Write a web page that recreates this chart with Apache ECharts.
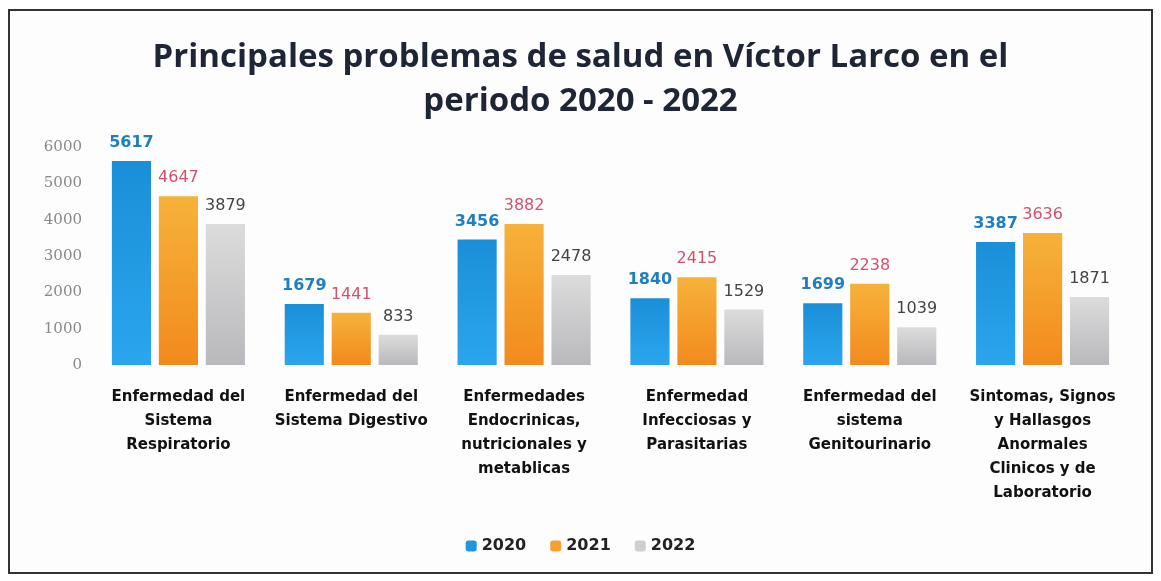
<!DOCTYPE html>
<html>
<head>
<meta charset="utf-8">
<script src="https://cdn.jsdelivr.net/npm/echarts@6/dist/echarts.min.js"></script>
<style>
  html, body { margin: 0; padding: 0; background: #fff; }
  #chart { position: absolute; left: 8px; top: 9px; width: 1145px; height: 565px; border: 2px solid #333; box-sizing: border-box; background: #fdfdfd; }
</style>
</head>
<body>
<div id="chart"></div>
<script>
const categories = [
  "Enfermedad del\nSistema\nRespiratorio",
  "Enfermedad del\nSistema Digestivo",
  "Enfermedades\nEndocrinicas,\nnutricionales y\nmetablicas",
  "Enfermedad\nInfecciosas y\nParasitarias",
  "Enfermedad del\nsistema\nGenitourinario",
  "Sintomas, Signos\ny Hallasgos\nAnormales\nClinicos y de\nLaboratorio"
];
const years = ["2020", "2021", "2022"];
const values2020 = [5617, 1679, 3456, 1840, 1699, 3387];
const values2021 = [4647, 1441, 3882, 2415, 2238, 3636];
const values2022 = [3879, 833, 2478, 1529, 1039, 1871];

const chart = echarts.init(document.getElementById("chart"));

function grad(top, bottom) {
  return new echarts.graphic.LinearGradient(0, 0, 0, 1, [
    { offset: 0, color: top },
    { offset: 1, color: bottom }
  ]);
}

const styles = [
  { color: grad("#1a8fd8", "#2aa6ee"), legend: "#2196e0", label: "#1f7fc0", weight: "bold" },
  { color: grad("#f6b23a", "#f28a1e"), legend: "#f5a030", label: "#d5506e", weight: "normal" },
  { color: grad("#dcdcdc", "#b9b9bd"), legend: "#cfcfcf", label: "#444", weight: "normal" }
];
const allValues = [values2020, values2021, values2022];

chart.setOption({
  animation: false,
  title: {
    text: "Principales problemas de salud en Víctor Larco en el\nperiodo 2020 - 2022",
    left: "center",
    top: 20,
    textStyle: {
      fontFamily: "Open Sans",
      fontSize: 33,
      fontWeight: "bold",
      color: "#1e2636",
      lineHeight: 44
    }
  },
  legend: {
    bottom: 13,
    left: "center",
    itemWidth: 11,
    itemHeight: 11,
    itemGap: 24,
    textStyle: { fontFamily: "DejaVu Sans", fontSize: 16, fontWeight: "bold", color: "#222" },
    data: years.map((y, i) => ({ name: y, itemStyle: { color: styles[i].legend } }))
  },
  grid: {
    left: 82,
    right: 22,
    top: 136,
    bottom: 207
  },
  xAxis: {
    type: "category",
    data: categories,
    axisLine: { show: false },
    axisTick: { show: false },
    axisLabel: {
      interval: 0,
      margin: 20,
      fontFamily: "DejaVu Sans",
      fontSize: 15,
      fontWeight: "bold",
      color: "#111",
      lineHeight: 24
    }
  },
  yAxis: {
    type: "value",
    min: 0,
    max: 6000,
    interval: 1000,
    splitLine: { show: false },
    axisLine: { show: false },
    axisTick: { show: false },
    axisLabel: {
      margin: 10,
      fontFamily: "DejaVu Serif",
      fontSize: 15,
      color: "#888",
      formatter: (v) => String(v)
    }
  },
  series: years.map((y, i) => ({
    name: y,
    type: "bar",
    data: allValues[i],
    barGap: "20%",
    barCategoryGap: "23%",
    itemStyle: { color: styles[i].color },
    label: {
      show: true,
      position: "top",
      distance: 10,
      fontFamily: "DejaVu Sans",
      fontSize: 16,
      fontWeight: styles[i].weight,
      color: styles[i].label
    }
  }))
});
</script>
</body>
</html>
